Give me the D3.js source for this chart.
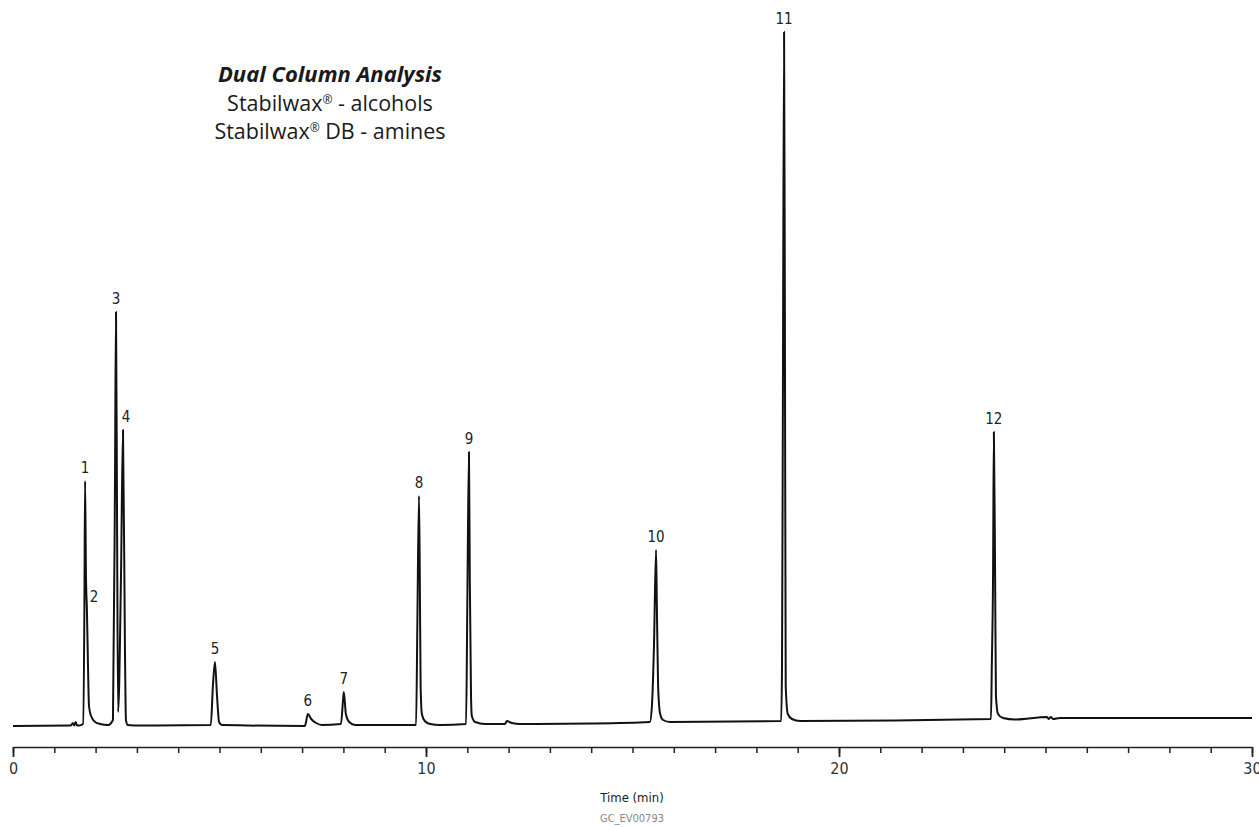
<!DOCTYPE html>
<html>
<head>
<meta charset="utf-8">
<script src="https://cdn.jsdelivr.net/npm/d3@7"></script>
<style>
  body { margin: 0; background: #fff; }
  .narrow { font-family: "Liberation Sans Narrow", "DejaVu Sans", sans-serif; font-stretch: condensed; }
</style>
</head>
<body>
<script>
// trace points: time (min) and detector signal (arbitrary units)
var traceTime = [0, 1.40, 1.45, 1.48, 1.52, 1.55, 1.60, 1.695, 1.73, 1.745, 1.767, 1.79, 1.816, 1.84, 1.89, 1.99, 2.11, 2.30,
  2.42, 2.47, 2.494, 2.52, 2.545, 2.615, 2.663, 2.71, 2.735, 2.78, 3.07,
  4.79, 4.84, 4.89, 4.94, 4.99, 5.06,
  7.07, 7.09, 7.14, 7.22, 7.34, 7.48,
  7.94, 7.99, 8.01, 8.06, 8.14, 8.28,
  9.76, 9.79, 9.83, 9.85, 9.87, 9.90, 9.97, 10.10, 10.34,
  10.97, 11.00, 11.04, 11.06, 11.09, 11.11, 11.19, 11.43,
  11.91, 11.96, 12.08, 12.28, 14.0,
  15.42, 15.47, 15.52, 15.57, 15.59, 15.62, 15.67, 15.74, 15.91,
  18.60, 18.62, 18.64, 18.67, 18.69, 18.71, 18.76, 18.86, 19.06,
  23.68, 23.70, 23.73, 23.75, 23.78, 23.80, 23.85, 23.97, 24.26,
  25.04, 25.08, 25.13, 25.18, 25.35, 28.5, 30];
var traceSignal = [0, 0.5, 3, 0.5, 4, 0.5, 0.5, 2, 126, 245, 150, 116, 60, 20, 10, 4, 2, 1,
  6, 250, 414, 200, 14, 150, 296, 80, 6, 1, 0.5,
  1, 40, 64, 30, 4, 1,
  0, 3, 12, 7, 3, 1,
  2, 25, 34, 12, 4, 1,
  1, 100, 230, 150, 40, 12, 5, 2, 1,
  2, 120, 274, 150, 30, 10, 4, 2,
  2, 5, 3, 2, 2.5,
  4, 20, 80, 176, 120, 40, 12, 6, 4,
  5, 60, 300, 694, 400, 40, 12, 7, 5,
  7, 60, 150, 294, 150, 30, 12, 8, 6.5,
  9, 7, 9, 7, 8, 8, 8];

// peak labels
var peakIds = ["1", "2", "3", "4", "5", "6", "7", "8", "9", "10", "11", "12"];
var peakTimes = [1.745, 1.79, 2.494, 2.663, 4.89, 7.14, 8.01, 9.83, 11.04, 15.57, 18.67, 23.75];
var peakSignals = [245, 116, 414, 296, 64, 12, 34, 230, 274, 176, 694, 294];

var majorTicks = [0, 10, 20, 30];
var minorTicks = d3.range(0, 31);

var titleMain = "Dual Column Analysis";
var columnNames = ["Stabilwax", "Stabilwax"];
var columnSuffix = [" - alcohols", " DB - amines"];

var width = 1259, height = 827;

var svg = d3.select("body").append("svg")
    .attr("width", width)
    .attr("height", height);

var x = d3.scaleLinear().domain([0, 30]).range([13, 1252]);
var y = d3.scaleLinear().domain([0, 694]).range([726, 32]);

var data = traceTime.map((t, i) => ({t: t, s: traceSignal[i]}));

// chromatogram trace
svg.append("path")
    .datum(data)
    .attr("fill", "none")
    .attr("stroke", "#111")
    .attr("stroke-width", 2)
    .attr("stroke-linejoin", "round")
    .attr("d", d3.line()
        .x(d => x(d.t))
        .y(d => y(d.s))
        .curve(d3.curveMonotoneX));

// peak numbers
svg.selectAll(".peak-label")
    .data(peakIds)
  .enter().append("text")
    .attr("class", "peak-label narrow")
    .attr("x", (d, i) => x(peakTimes[i]) + (d == "2" ? 7 : d == "4" ? 3 : 0))
    .attr("y", (d, i) => y(peakSignals[i]) - 8)
    .attr("text-anchor", "middle")
    .style("font-size", "15px")
    .style("fill", "#222")
    .text(d => d);

// axis: minor ticks then major ticks
var axisY = 747;
svg.append("g")
    .attr("transform", "translate(0," + axisY + ")")
    .call(d3.axisBottom(x).tickValues(minorTicks).tickSize(6).tickSizeOuter(0).tickFormat(""))
    .call(g => g.selectAll("line").attr("stroke", "#222").attr("stroke-width", 1.5))
    .call(g => g.select(".domain").attr("stroke", "#222").attr("stroke-width", 1.5));

svg.append("g")
    .attr("transform", "translate(0," + axisY + ")")
    .call(d3.axisBottom(x).tickValues(majorTicks).tickSize(10).tickPadding(6).tickFormat(d3.format("d")))
    .call(g => g.select(".domain").remove())
    .call(g => g.selectAll("line").attr("stroke", "#222").attr("stroke-width", 1.8))
    .call(g => g.selectAll("text").attr("class", "narrow").attr("font-size", 16).attr("fill", "#333"));

// axis title + figure id
svg.append("text")
    .attr("class", "narrow")
    .attr("x", 632).attr("y", 802)
    .attr("text-anchor", "middle")
    .style("font-size", "13px")
    .style("fill", "#222")
    .text("Time (min)");

svg.append("text")
    .attr("class", "narrow")
    .attr("x", 632).attr("y", 822)
    .attr("text-anchor", "middle")
    .style("font-size", "11px")
    .style("fill", "#888")
    .text("GC_EV00793");

// title block
svg.append("text")
    .attr("x", 330).attr("y", 82)
    .attr("text-anchor", "middle")
    .style("font-family", "'Open Sans', 'Noto Sans', sans-serif")
    .style("font-size", "22px")
    .style("font-weight", "bold")
    .style("font-style", "italic")
    .style("fill", "#1a1a1a")
    .text(titleMain);

var sub = svg.selectAll(".subtitle")
    .data(columnNames)
  .enter().append("text")
    .attr("class", "subtitle")
    .attr("x", 330)
    .attr("y", (d, i) => 111 + i * 28)
    .attr("text-anchor", "middle")
    .style("font-family", "'Open Sans', 'Noto Sans', sans-serif")
    .style("font-size", "21.5px")
    .style("fill", "#1a1a1a");

sub.append("tspan").text(d => d);
sub.append("tspan")
    .attr("dy", -7)
    .style("font-size", "12px")
    .text("\u00AE");
sub.append("tspan")
    .attr("dy", 7)
    .text((d, i) => columnSuffix[i]);
</script>
</body>
</html>
